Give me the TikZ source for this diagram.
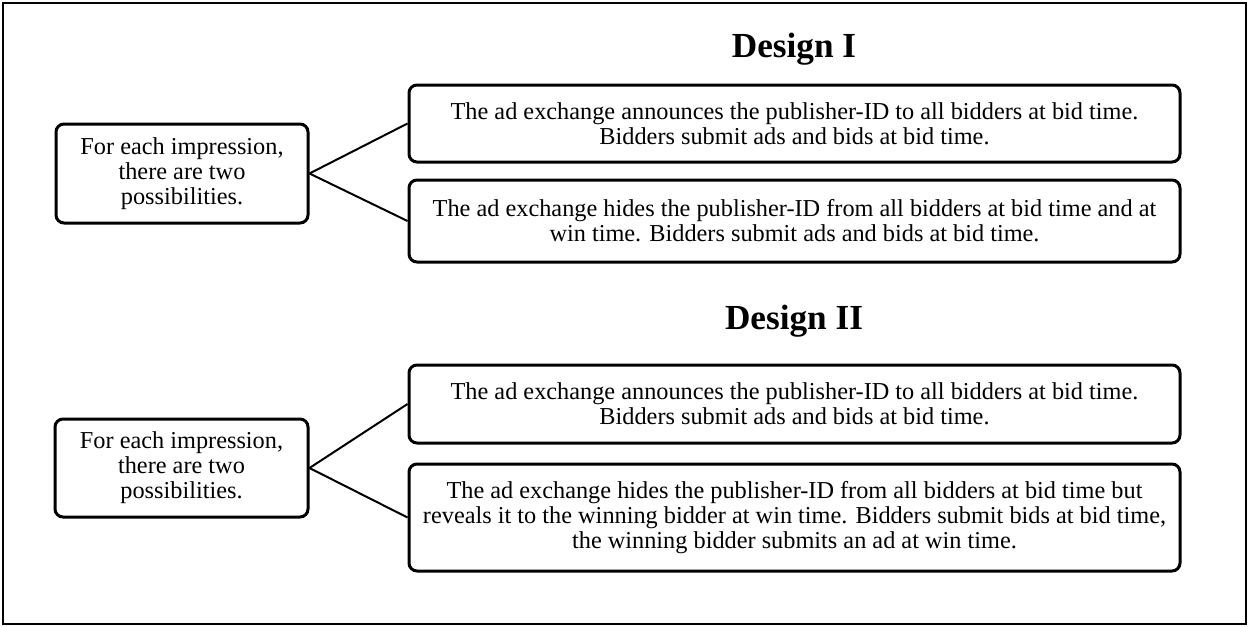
\documentclass[tikz,border=0pt]{standalone}
\usepackage{fontspec}
\setmainfont{Liberation Serif}
\begin{document}
\begin{tikzpicture}[x=1pt,y=-1pt,
  box/.style={draw, line width=3pt, rounded corners=8pt, align=center, inner sep=0pt,
    font=\fontsize{24.3}{25}\selectfont},
  link/.style={line width=2pt},
  title/.style={font=\fontsize{35.2}{38}\selectfont\bfseries, anchor=base}]
\useasboundingbox (0,0) rectangle (1249,626);
\draw[line width=1.5pt] (3,3) rectangle (1246,624);

\node[title] (t1) at (794,57) {Design I};
\node[title] (t2) at (794,329) {Design II};

\node[box, minimum width=252pt, minimum height=99pt] (l1) at (182,173.5)
  {For each impression,\\there are two\\possibilities.};
\node[box, minimum width=771pt, minimum height=77pt] (a) at (794.5,123.5)
  {The ad exchange announces the publisher-ID to all bidders at bid time.\\Bidders submit ads and bids at bid time.};
\node[box, minimum width=771pt, minimum height=82pt] (b) at (794.5,221)
  {The ad exchange hides the publisher-ID from all bidders at bid time and at\\win time. Bidders submit ads and bids at bid time.};

\node[box, minimum width=253pt, minimum height=98pt] (l2) at (181.5,468)
  {For each impression,\\there are two\\possibilities.};
\node[box, minimum width=771pt, minimum height=78pt] (c) at (794.5,404)
  {The ad exchange announces the publisher-ID to all bidders at bid time.\\Bidders submit ads and bids at bid time.};
\node[box, minimum width=771pt, minimum height=107pt] (d) at (794.5,517.5)
  {The ad exchange hides the publisher-ID from all bidders at bid time but\\reveals it to the winning bidder at win time. Bidders submit bids at bid time,\\the winning bidder submits an ad at win time.};

\draw[link] (l1.east) -- (a.west);
\draw[link] (l1.east) -- (b.west);
\draw[link] (l2.east) -- (c.west);
\draw[link] (l2.east) -- (d.west);
\end{tikzpicture}
\end{document}
